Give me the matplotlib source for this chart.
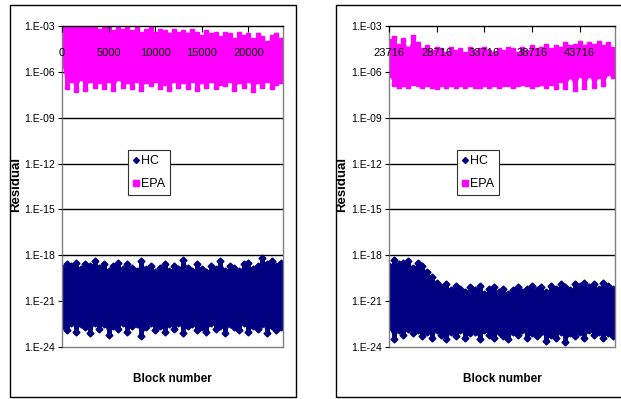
import numpy as np
import matplotlib.pyplot as plt
from matplotlib.patches import Rectangle
from matplotlib.lines import Line2D

plt.rcParams['font.family'] = ['Liberation Sans', 'DejaVu Sans']

HC_COLOR = '#000080'
EPA_COLOR = '#FF00FF'

# block ranges of the two runs
left_range = (0, 23716)
right_range = (23716, 47432)
left_ticks = [0, 5000, 10000, 15000, 20000]
right_ticks = [23716, 28716, 33716, 38716, 43716]

# sampled block numbers (every 500 blocks)
left_blocks = np.arange(0, 24000, 500)
right_blocks = np.arange(23716, 47500, 500)

# log10 of the residual: upper / lower envelope of each series
left_epa_hi = [-2.8, -2.9, -2.8, -3.1, -2.9, -3.2, -3.0, -3.1, -3.3, -3.0, -3.2, -3.4,
               -3.1, -3.3, -3.2, -3.4, -3.2, -3.5, -3.3, -3.2, -3.5, -3.3, -3.4, -3.6,
               -3.3, -3.5, -3.4, -3.6, -3.3, -3.5, -3.7, -3.4, -3.6, -3.5, -3.8, -3.5,
               -3.6, -3.9, -3.5, -3.7, -3.6, -3.9, -3.6, -3.8, -4.1, -3.7, -3.6, -3.9]
left_epa_lo = [-5.5, -7.0, -6.5, -7.2, -6.4, -7.1, -6.5, -6.9, -6.6, -7.0, -6.5, -7.1,
               -6.4, -6.9, -6.6, -7.0, -6.5, -7.1, -6.6, -6.8, -6.5, -7.0, -6.7, -7.1,
               -6.5, -6.9, -6.6, -7.0, -6.5, -7.1, -6.6, -6.9, -6.5, -7.0, -6.7, -6.8,
               -6.5, -7.1, -6.6, -6.9, -6.5, -7.2, -6.6, -6.9, -6.5, -7.0, -6.7, -6.6]
left_hc_hi = [-18.8, -18.6, -18.7, -18.5, -18.9, -18.6, -18.7, -18.4, -18.8, -18.6, -19.0, -18.7,
              -18.5, -18.9, -18.6, -18.8, -19.0, -18.4, -18.9, -18.7, -19.1, -18.8, -18.6, -19.0,
              -18.7, -18.9, -18.3, -18.8, -19.0, -18.6, -18.9, -19.1, -18.7, -18.9, -18.4, -19.0,
              -18.7, -18.8, -19.0, -18.6, -18.5, -18.9, -18.7, -18.2, -18.6, -18.4, -18.7, -18.5]
left_hc_lo = [-22.6, -22.9, -22.4, -23.0, -22.5, -22.7, -23.1, -22.4, -22.8, -22.5, -23.2, -22.6,
              -22.8, -22.4, -23.0, -22.6, -22.5, -23.3, -22.7, -22.4, -22.9, -22.6, -23.0, -22.5,
              -22.8, -22.4, -23.1, -22.6, -22.5, -22.9, -22.7, -23.0, -22.4, -22.8, -22.6, -23.1,
              -22.5, -22.7, -22.9, -22.4, -23.0, -22.6, -22.8, -22.5, -23.1, -22.6, -22.9, -22.7]

right_epa_hi = [-4.0, -3.8, -4.3, -3.9, -4.5, -3.7, -4.2, -4.6, -4.4, -4.7, -4.5, -4.6,
                -4.8, -4.5, -4.7, -4.6, -4.8, -4.5, -4.7, -4.6, -4.5, -4.7, -4.8, -4.6,
                -4.7, -4.5, -4.6, -4.8, -4.5, -4.7, -4.4, -4.6, -4.5, -4.3, -4.6, -4.4,
                -4.5, -4.2, -4.4, -4.3, -4.1, -4.4, -4.2, -4.3, -4.1, -4.4, -4.2, -4.5]
right_epa_lo = [-6.2, -6.8, -6.9, -6.8, -6.9, -6.7, -6.8, -6.9, -6.8, -6.9, -7.0, -6.8,
                -6.9, -6.8, -6.9, -6.8, -6.9, -6.8, -6.9, -6.9, -6.8, -6.9, -6.8, -6.9,
                -6.8, -6.8, -6.9, -6.8, -6.7, -6.8, -6.9, -6.8, -6.7, -6.9, -6.7, -7.0,
                -6.5, -7.0, -6.3, -7.1, -6.2, -7.0, -6.2, -6.9, -6.3, -6.8, -6.1, -6.3]
right_hc_hi = [-18.7, -18.3, -18.6, -18.5, -18.4, -18.8, -18.5, -18.7, -19.1, -19.4, -19.8, -20.1,
               -19.9, -20.3, -20.0, -20.2, -20.4, -20.1, -20.3, -20.0, -20.5, -20.2, -20.1, -20.4,
               -20.2, -20.5, -20.3, -20.1, -20.4, -20.2, -20.0, -20.3, -20.1, -20.4, -20.0, -20.2,
               -19.9, -20.1, -20.3, -19.9, -20.0, -19.8, -20.1, -19.9, -20.2, -19.8, -20.0, -20.2]
right_hc_lo = [-22.7, -23.5, -22.9, -23.2, -22.8, -23.1, -22.9, -23.3, -23.0, -23.4, -22.9, -23.2,
               -23.5, -23.0, -23.3, -22.9, -23.4, -23.1, -23.0, -23.5, -22.9, -23.2, -23.4, -23.0,
               -23.3, -23.5, -23.0, -23.2, -22.9, -23.4, -23.1, -23.3, -23.0, -23.6, -23.2, -23.4,
               -23.0, -23.7, -23.1, -23.3, -23.0, -23.4, -22.9, -23.2, -23.0, -23.4, -23.1, -23.3]

ytick_exps = [-3, -6, -9, -12, -15, -18, -21, -24]
ytick_labels = ['1.E-03', '1.E-06', '1.E-09', '1.E-12', '1.E-15', '1.E-18', '1.E-21', '1.E-24']


def draw_band(ax, x, hi, lo, color, marker):
    hi = 10.0 ** np.array(hi)
    lo = 10.0 ** np.array(lo)
    ax.fill_between(x, lo, hi, color=color, lw=0, zorder=2)
    ax.vlines(x, lo, hi, color=color, lw=3.5, capstyle='round', zorder=2)
    ax.plot(x, hi, ls='none', marker=marker, ms=3.5, color=color, zorder=2)
    ax.plot(x, lo, ls='none', marker=marker, ms=3.5, color=color, zorder=2)


def residual_panel(ax, xlim, xticks, blocks, hc_hi, hc_lo, epa_hi, epa_lo):
    ax.set_axisbelow(False)
    ax.set_yscale('log')
    ax.set_ylim(1e-24, 1e-3)
    ax.set_xlim(*xlim)
    ax.set_yticks([10.0 ** e for e in ytick_exps])
    ax.set_yticklabels(ytick_labels, fontsize=7.5)
    ax.yaxis.set_minor_locator(plt.NullLocator())
    ax.tick_params(axis='y', direction='out', length=3, width=0.8, color='black', pad=2)
    ax.set_xticks(xticks)
    ax.set_xticklabels([str(t) for t in xticks], fontsize=8)
    ax.tick_params(axis='x', top=True, labeltop=True, bottom=False, labelbottom=False,
                   direction='in', length=4, width=0.8, pad=-23)
    for e in ytick_exps[1:-1]:
        ax.axhline(10.0 ** e, color='black', lw=1.0, zorder=1)
    for side in ['left', 'right', 'bottom']:
        ax.spines[side].set_color('#808080')
        ax.spines[side].set_linewidth(1.0)
    ax.spines['top'].set_color('black')
    ax.spines['top'].set_linewidth(1.0)

    draw_band(ax, blocks, epa_hi, epa_lo, EPA_COLOR, 's')
    draw_band(ax, blocks, hc_hi, hc_lo, HC_COLOR, 'D')

    ax.set_ylabel('Residual', fontsize=9.5, fontweight='bold')
    ax.yaxis.set_label_coords(-0.18, 0.505)
    ax.set_xlabel('Block number', fontsize=8.5, fontweight='bold', labelpad=19)

    handles = [Line2D([], [], ls='none', marker='D', ms=3, color=HC_COLOR),
               Line2D([], [], ls='none', marker='s', ms=4, color=EPA_COLOR)]
    leg = ax.legend(handles, ['HC', 'EPA'], loc='center', bbox_to_anchor=(0.395, 0.543),
                    fontsize=9, frameon=True, fancybox=False, framealpha=1,
                    handlelength=0.4, handletextpad=0.25, borderpad=0.4,
                    labelspacing=0.9, borderaxespad=0)
    leg.get_frame().set_edgecolor('#333333')
    leg.get_frame().set_linewidth(0.8)
    leg.set_zorder(6)


fig = plt.figure(figsize=(6.21, 3.99), dpi=100)
ax_l = fig.add_axes([62 / 621, 1 - 347 / 399, 221 / 621, 321 / 399])
ax_r = fig.add_axes([389 / 621, 1 - 347 / 399, 226 / 621, 321 / 399])

residual_panel(ax_l, left_range, left_ticks, left_blocks,
               left_hc_hi, left_hc_lo, left_epa_hi, left_epa_lo)
residual_panel(ax_r, right_range, right_ticks, right_blocks,
               right_hc_hi, right_hc_lo, right_epa_hi, right_epa_lo)

# chart frames around each panel
for x0 in [10 / 621, 336 / 621]:
    fig.add_artist(Rectangle((x0, 2 / 399), 286 / 621, 392 / 399,
                             transform=fig.transFigure, fill=False,
                             edgecolor='black', lw=1.0))

fig.savefig('out.png', dpi=100)
